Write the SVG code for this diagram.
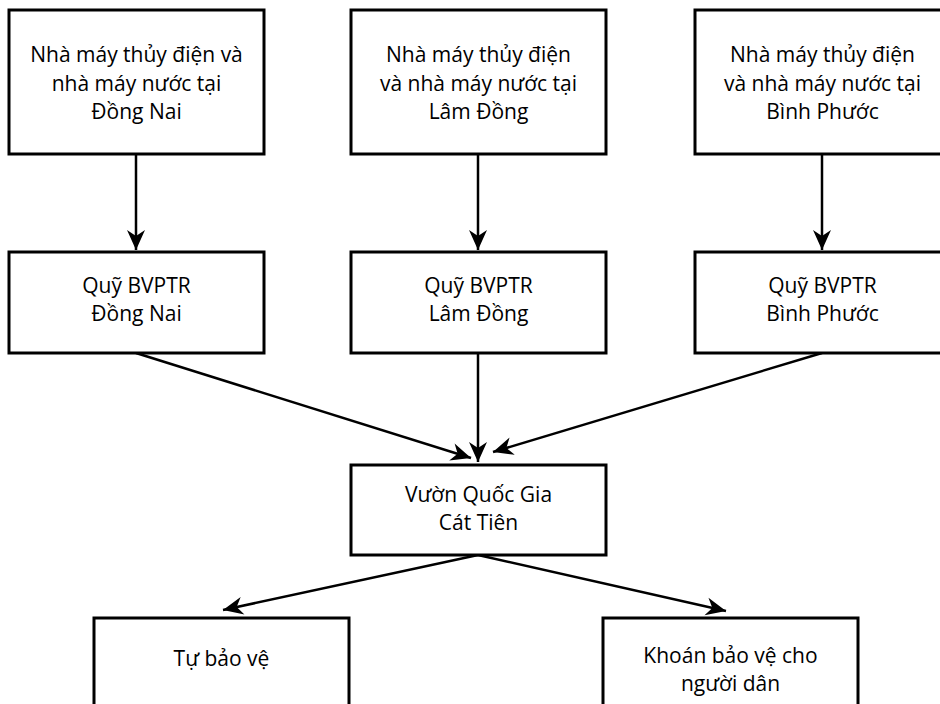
<svg xmlns="http://www.w3.org/2000/svg" width="940" height="704" viewBox="0 0 940 704">
<style>
.box{fill:#fff;stroke:#000;stroke-width:3}
.t{font-family:"Open Sans","Liberation Sans",sans-serif;font-size:21px;fill:#000;text-anchor:middle}
.c{fill:none;stroke:#000;stroke-width:2.5}
</style>
<defs>
<marker id="ah" markerUnits="userSpaceOnUse" viewBox="-21 -10 23 20" refX="0" refY="0" markerWidth="23" markerHeight="20" orient="auto">
<path d="M0,0 L-20,-9 L-14,0 L-20,9 Z" fill="#000"/>
</marker>
</defs>
<rect width="940" height="704" fill="#fff"/>
<g id="connectors">
<path class="c" d="M136,154 L136,250" marker-end="url(#ah)"/>
<path class="c" d="M478,154 L478,250" marker-end="url(#ah)"/>
<path class="c" d="M822,154 L822,250" marker-end="url(#ah)"/>
<path class="c" d="M136,353 L471,458" marker-end="url(#ah)"/>
<path class="c" d="M478,353 L478,462" marker-end="url(#ah)"/>
<path class="c" d="M822,353 L493,452" marker-end="url(#ah)"/>
<path class="c" d="M478,555 L223,610" marker-end="url(#ah)"/>
<path class="c" d="M478,555 L726,611" marker-end="url(#ah)"/>
</g>
<g id="n1">
<rect class="box" x="9" y="10" width="255" height="144"/>
<text class="t"><tspan x="136.5" y="62">Nhà máy thủy điện và</tspan><tspan x="136.5" y="91">nhà máy nước tại</tspan><tspan x="136.5" y="119">Đồng Nai</tspan></text>
</g>
<g id="n2">
<rect class="box" x="351" y="10" width="255" height="144"/>
<text class="t"><tspan x="478.5" y="62">Nhà máy thủy điện</tspan><tspan x="478.5" y="91">và nhà máy nước tại</tspan><tspan x="478.5" y="119">Lâm Đồng</tspan></text>
</g>
<g id="n3">
<rect class="box" x="695" y="10" width="255" height="144"/>
<text class="t"><tspan x="822.5" y="62">Nhà máy thủy điện</tspan><tspan x="822.5" y="91">và nhà máy nước tại</tspan><tspan x="822.5" y="119">Bình Phước</tspan></text>
</g>
<g id="q1">
<rect class="box" x="9" y="252" width="255" height="101"/>
<text class="t"><tspan x="136.5" y="293">Quỹ BVPTR</tspan><tspan x="136.5" y="321">Đồng Nai</tspan></text>
</g>
<g id="q2">
<rect class="box" x="351" y="252" width="255" height="101"/>
<text class="t"><tspan x="478.5" y="293">Quỹ BVPTR</tspan><tspan x="478.5" y="321">Lâm Đồng</tspan></text>
</g>
<g id="q3">
<rect class="box" x="695" y="252" width="255" height="101"/>
<text class="t"><tspan x="822.5" y="293">Quỹ BVPTR</tspan><tspan x="822.5" y="321">Bình Phước</tspan></text>
</g>
<g id="vqg">
<rect class="box" x="351" y="465" width="255" height="90"/>
<text class="t"><tspan x="478.5" y="502">Vườn Quốc Gia</tspan><tspan x="478.5" y="530">Cát Tiên</tspan></text>
</g>
<g id="tbv">
<rect class="box" x="94" y="618" width="255" height="100"/>
<text class="t" x="221.5" y="666">Tự bảo vệ</text>
</g>
<g id="kbv">
<rect class="box" x="603" y="618" width="255" height="100"/>
<text class="t"><tspan x="730.5" y="663">Khoán bảo vệ cho</tspan><tspan x="730.5" y="691">người dân</tspan></text>
</g>
</svg>
